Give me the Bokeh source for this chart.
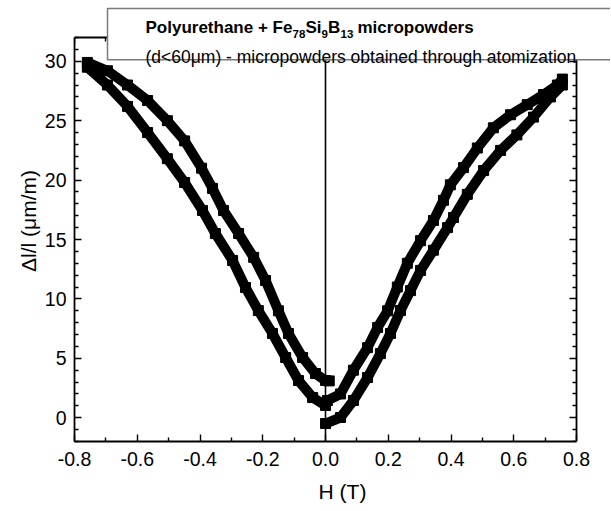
from bokeh.plotting import figure
from bokeh.models import Range1d, LinearAxis, BoxAnnotation, Label, FixedTicker
from bokeh.embed import file_html
from bokeh.resources import INLINE

# ---------------- data ----------------
# branch 1: H rising 0 -> +0.75
h_rise_pos = [0.000, 0.048, 0.089, 0.134, 0.175, 0.207, 0.239, 0.271, 0.303, 0.344,
              0.389, 0.408, 0.452, 0.504, 0.558, 0.610, 0.663, 0.717, 0.755]
d_rise_pos = [-0.49, 0.02, 1.45, 3.38, 5.40, 7.09, 9.02, 10.7, 12.4, 14.1,
              16.0, 16.85, 18.8, 20.8, 22.5, 23.8, 25.3, 27.0, 28.0]
# branch 2: H falling +0.75 -> 0
h_fall_pos = [0.755, 0.739, 0.695, 0.643, 0.590, 0.535, 0.484, 0.440, 0.398, 0.376,
              0.344, 0.303, 0.261, 0.229, 0.198, 0.166, 0.134, 0.089, 0.048, 0.006]
d_fall_pos = [28.5, 28.0, 27.2, 26.35, 25.5, 24.4, 22.7, 21.05, 19.6, 18.3,
              16.6, 14.9, 13.0, 11.0, 9.0, 7.6, 5.9, 4.0, 2.0, 1.45]
# branch 3: H falling 0 -> -0.76
h_fall_neg = [0.000, -0.041, -0.086, -0.127, -0.169, -0.214, -0.255, -0.296, -0.351,
              -0.392, -0.449, -0.504, -0.567, -0.631, -0.695, -0.759]
d_fall_neg = [1.03, 1.7, 3.13, 5.07, 7.09, 9.02, 10.96, 13.23, 15.5,
              17.44, 19.8, 21.8, 24.0, 26.2, 28.0, 29.5]
# branch 4: H rising -0.76 -> 0
h_rise_neg = [-0.759, -0.695, -0.631, -0.567, -0.504, -0.449, -0.395, -0.360, -0.325,
              -0.277, -0.229, -0.191, -0.150, -0.118, -0.073, -0.032, 0.000, 0.012]
d_rise_neg = [29.9, 29.2, 28.0, 26.7, 25.0, 23.3, 21.0, 19.3, 17.44,
              15.5, 13.5, 11.55, 9.0, 7.09, 5.07, 3.72, 3.13, 3.1]

x_ticks = [-0.8, -0.6, -0.4, -0.2, 0.0, 0.2, 0.4, 0.6, 0.8]
x_tick_labels = ["-0.8", "-0.6", "-0.4", "-0.2", "0.0", "0.2", "0.4", "0.6", "0.8"]
x_minor = [-0.7, -0.5, -0.3, -0.1, 0.1, 0.3, 0.5, 0.7]
y_ticks = [0, 5, 10, 15, 20, 25, 30]
y_tick_labels = ["0", "5", "10", "15", "20", "25", "30"]
y_minor = [v for v in range(-2, 33) if v % 5 != 0]

x_lim = (-0.8, 0.8)
y_lim = (-2.0, 32.0)
zero_line_x = 0.0

title_parts = [("Polyurethane + Fe", False), ("78", True), ("Si", False), ("9", True),
               ("B", False), ("13", True), ("micropowders", False)]
subtitle = "(d<60\u03bcm) - micropowders obtained through atomization"

# ---------------- layout (canvas pixels) ----------------
W, H = 610, 510
PL, PR = 74, 576        # x = -0.8 / +0.8
PT, PB = 37, 441        # y = 32 / -2
kx = (PR - PL) / (x_lim[1] - x_lim[0])
ky = (PB - PT) / (y_lim[1] - y_lim[0])
x_range = Range1d(x_lim[0], x_lim[1] + (W - PR) / kx)
y_range = Range1d(y_lim[0], y_lim[1] + PT / ky)

def dx(cx):
    return x_lim[0] + (cx - PL) / kx

def dy(cy):
    return y_lim[1] - (cy - PT) / ky

FONT = "Liberation Sans"

p = figure(width=W, height=H, x_range=x_range, y_range=y_range,
           output_backend="svg", toolbar_location=None,
           min_border_left=PL, min_border_top=0,
           min_border_right=0, min_border_bottom=H - PB,
           x_axis_label="H (T)", y_axis_label="\u0394l/l (\u03bcm/m)")
p.outline_line_color = None
p.xgrid.visible = False
p.ygrid.visible = False
p.background_fill_color = "white"
p.border_fill_color = "white"

def style_axis(ax, show_labels):
    ax.axis_line_color = "black"
    ax.axis_line_width = 1.8
    ax.major_tick_line_color = "black"
    ax.minor_tick_line_color = "black"
    ax.major_tick_line_width = 1.4
    ax.minor_tick_line_width = 1.4
    ax.major_tick_in = 7
    ax.major_tick_out = 0
    ax.minor_tick_in = 4
    ax.minor_tick_out = 0
    ax.major_label_text_font = FONT
    if show_labels:
        ax.major_label_text_color = "black"
        ax.major_label_text_font_size = "19.5px"
    else:
        ax.major_label_text_color = None
        ax.major_label_text_font_size = "1px"
        ax.major_label_standoff = 0

xt = FixedTicker(ticks=x_ticks, minor_ticks=x_minor)
yt = FixedTicker(ticks=y_ticks, minor_ticks=y_minor)

for ax in p.xaxis:
    ax.ticker = xt
    ax.bounds = x_lim
    ax.major_label_overrides = {v: s for v, s in zip(x_ticks, x_tick_labels)}
    style_axis(ax, True)
    ax.major_label_standoff = 10
    ax.axis_label_standoff = 11
    ax.axis_label_text_font = FONT
    ax.axis_label_text_font_size = "21px"
    ax.axis_label_text_font_style = "normal"
    ax.axis_label_text_color = "black"
for ax in p.yaxis:
    ax.ticker = yt
    ax.bounds = y_lim
    ax.major_label_overrides = {v: s for v, s in zip(y_ticks, y_tick_labels)}
    style_axis(ax, True)
    ax.major_label_standoff = 8
    ax.axis_label_standoff = 2
    ax.axis_label_text_font = FONT
    ax.axis_label_text_font_size = "21px"
    ax.axis_label_text_font_style = "normal"
    ax.axis_label_text_color = "black"

top_ax = LinearAxis(ticker=xt, bounds=x_lim, fixed_location=y_lim[1])
style_axis(top_ax, False)
p.add_layout(top_ax, "above")
right_ax = LinearAxis(ticker=yt, bounds=y_lim, fixed_location=x_lim[1])
style_axis(right_ax, False)
p.add_layout(right_ax, "right")

# vertical line at H = 0
p.segment(x0=[zero_line_x], y0=[y_lim[0]], x1=[zero_line_x], y1=[y_lim[1]],
          line_color="black", line_width=1.6)

# data loop
hx = h_rise_pos + h_fall_pos + h_fall_neg + h_rise_neg
dyv = d_rise_pos + d_fall_pos + d_fall_neg + d_rise_neg
p.line(hx, dyv, line_color="black", line_width=10, line_join="round")
p.scatter(hx, dyv, marker="square", size=10, fill_color="black", line_color="black")

# annotation box with text
box = BoxAnnotation(left=dx(107), right=dx(W + 20), top=dy(8), bottom=dy(59.3),
                    fill_color="white", fill_alpha=1.0,
                    line_color="#7a7a7a", line_width=1.5, line_alpha=1.0,
                    level="overlay")
p.add_layout(box)

xs = [145, 292, 305, 321, 327.5, 340, 357]
for (txt, sub), cx in zip(title_parts, xs):
    p.add_layout(Label(x=dx(cx), y=dy(33.3 if sub else 27.3), text=txt,
                       text_font=FONT, text_font_style="bold",
                       text_font_size="11.5px" if sub else "17px",
                       text_color="black", text_align="left",
                       text_baseline="alphabetic", level="overlay"))
p.add_layout(Label(x=dx(145), y=dy(56.3), text=subtitle, text_font=FONT,
                   text_font_size="17.5px", text_color="black",
                   text_align="left", text_baseline="alphabetic", level="overlay"))

open("out.html", "w").write(file_html(p, INLINE))
